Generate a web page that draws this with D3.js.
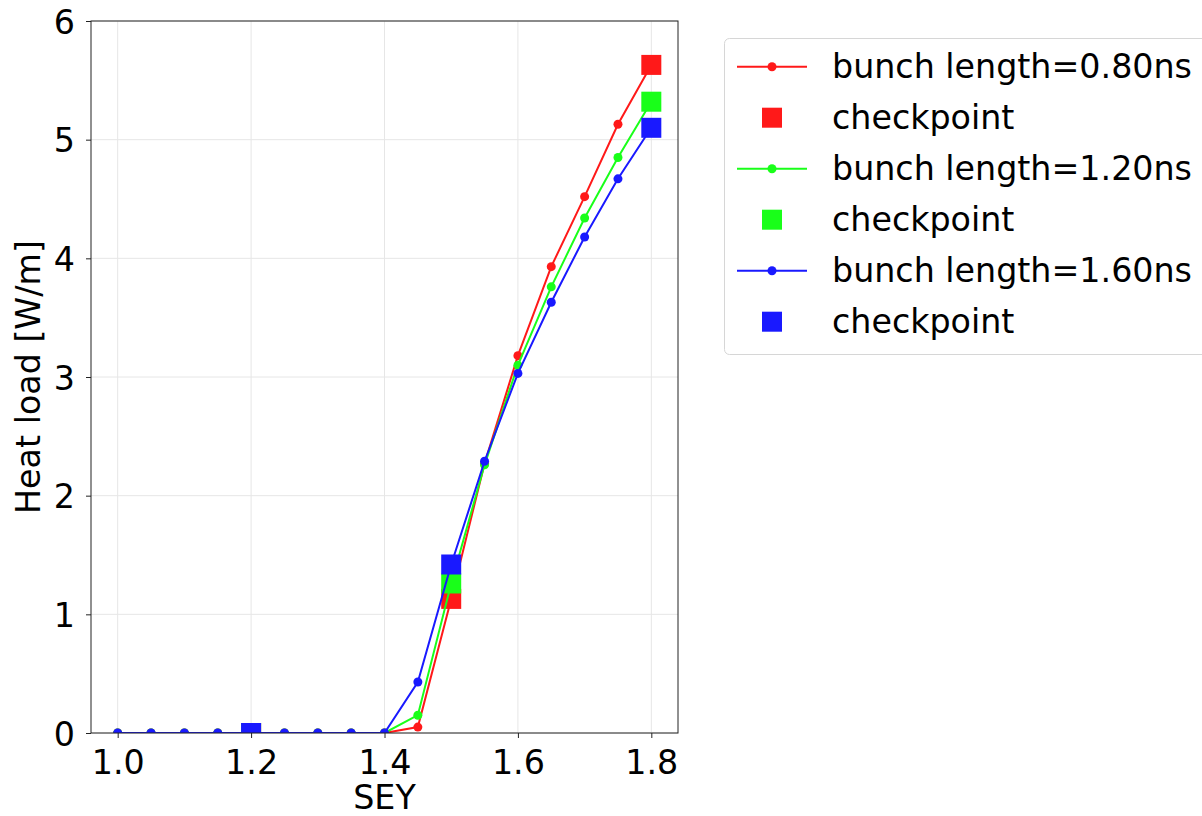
<!DOCTYPE html>
<html lang="en">
    <head>
        <meta charset="utf-8">
        <title>Heat load vs SEY</title>
        <script src="https://d3js.org/d3.v7.min.js"></script>
        <style>
            body {
                margin: 0;
                background-color: #ffffff;
            }
            svg {
                font-family: "DejaVu Sans", sans-serif;
            }
        </style>
    </head>
    <body>
        <svg id="chart"></svg>
        <script>
            //data
            const sey = [1.0, 1.05, 1.1, 1.15, 1.2, 1.25, 1.3, 1.35, 1.4, 1.45, 1.5, 1.55, 1.6, 1.65, 1.7, 1.75, 1.8];
            const heat080 = [0, 0, 0, 0, 0, 0, 0, 0, 0, 0.05, 1.13, 2.27, 3.18, 3.93, 4.52, 5.13, 5.63];
            const heat120 = [0, 0, 0, 0, 0, 0, 0, 0, 0, 0.15, 1.26, 2.26, 3.10, 3.76, 4.34, 4.85, 5.32];
            const heat160 = [0, 0, 0, 0, 0, 0, 0, 0, 0, 0.43, 1.42, 2.29, 3.03, 3.63, 4.18, 4.67, 5.10];

            const checkSey = [1.2, 1.5, 1.8];
            const check080 = [0, 1.13, 5.63];
            const check120 = [0, 1.26, 5.32];
            const check160 = [0, 1.42, 5.10];

            const seriesNames = ["bunch length=0.80ns", "bunch length=1.20ns", "bunch length=1.60ns"];
            const seriesColors = ["rgb(255,25,25)", "rgb(25,255,25)", "rgb(25,25,255)"];
            const xTicks = [1.0, 1.2, 1.4, 1.6, 1.8];
            const yTicks = [0, 1, 2, 3, 4, 5, 6];

            const series = [
                { name: seriesNames[0], color: seriesColors[0], line: heat080, check: check080 },
                { name: seriesNames[1], color: seriesColors[1], line: heat120, check: check120 },
                { name: seriesNames[2], color: seriesColors[2], line: heat160, check: check160 }
            ];

            //chart dimensions
            const width = 1202;
            const height = 816;
            const plot = { left: 91, top: 21, right: 678, bottom: 733 };
            const fontSize = 33.3;

            const svg = d3.select("#chart")
                    .attr("width", width)
                    .attr("height", height);

            svg.append("rect")
                    .attr("width", width)
                    .attr("height", height)
                    .attr("fill", "#ffffff");

            //scales
            const xScale = d3.scaleLinear()
                    .domain([0.96, 1.84])
                    .range([plot.left, plot.right]);

            const yScale = d3.scaleLinear()
                    .domain([0, 6])
                    .range([plot.bottom, plot.top]);

            //grid
            const grid = svg.append("g").attr("stroke", "#e6e6e6").attr("stroke-width", 1);
            grid.selectAll(".gx")
                    .data(xTicks)
                    .enter()
                    .append("line")
                    .attr("x1", d => xScale(d))
                    .attr("x2", d => xScale(d))
                    .attr("y1", plot.top)
                    .attr("y2", plot.bottom);
            grid.selectAll(".gy")
                    .data(yTicks)
                    .enter()
                    .append("line")
                    .attr("x1", plot.left)
                    .attr("x2", plot.right)
                    .attr("y1", d => yScale(d))
                    .attr("y2", d => yScale(d));

            //clip to plot area
            svg.append("clipPath")
                    .attr("id", "plot-clip")
                    .append("rect")
                    .attr("x", plot.left)
                    .attr("y", plot.top)
                    .attr("width", plot.right - plot.left)
                    .attr("height", plot.bottom - plot.top);

            const marks = svg.append("g").attr("clip-path", "url(#plot-clip)");

            const line = d3.line()
                    .x((d, i) => xScale(sey[i]))
                    .y(d => yScale(d));

            const squareSize = 20;

            series.forEach(s => {
                marks.append("path")
                        .datum(s.line)
                        .attr("d", line)
                        .attr("fill", "none")
                        .attr("stroke", s.color)
                        .attr("stroke-width", 2);

                marks.append("g")
                        .selectAll("circle")
                        .data(s.line)
                        .enter()
                        .append("circle")
                        .attr("cx", (d, i) => xScale(sey[i]))
                        .attr("cy", d => yScale(d))
                        .attr("r", 4.5)
                        .attr("fill", s.color);

                marks.append("g")
                        .selectAll("rect")
                        .data(s.check)
                        .enter()
                        .append("rect")
                        .attr("x", (d, i) => xScale(checkSey[i]) - squareSize / 2)
                        .attr("y", d => yScale(d) - squareSize / 2)
                        .attr("width", squareSize)
                        .attr("height", squareSize)
                        .attr("fill", s.color);
            });

            //frame
            svg.append("rect")
                    .attr("x", plot.left)
                    .attr("y", plot.top)
                    .attr("width", plot.right - plot.left)
                    .attr("height", plot.bottom - plot.top)
                    .attr("fill", "none")
                    .attr("stroke", "#222")
                    .attr("stroke-width", 1);

            //axes
            const xAxis = d3.axisBottom(xScale)
                    .tickValues(xTicks)
                    .tickFormat(d3.format(".1f"))
                    .tickSize(5)
                    .tickPadding(12);

            const yAxis = d3.axisLeft(yScale)
                    .tickValues(yTicks)
                    .tickFormat(d3.format("d"))
                    .tickSize(5)
                    .tickPadding(11);

            const gx = svg.append("g")
                    .attr("transform", `translate(0, ${plot.bottom})`)
                    .call(xAxis);
            const gy = svg.append("g")
                    .attr("transform", `translate(${plot.left}, 0)`)
                    .call(yAxis);

            [gx, gy].forEach(g => {
                g.select(".domain").remove();
                g.selectAll("line").attr("stroke", "#222");
                g.selectAll("text")
                        .attr("fill", "#000")
                        .style("font-size", fontSize + "px")
                        .style("font-family", "'DejaVu Sans', sans-serif");
            });
            gy.selectAll("text").attr("dy", "0.36em");

            //axis labels
            svg.append("text")
                    .attr("x", (plot.left + plot.right) / 2)
                    .attr("y", 809)
                    .attr("text-anchor", "middle")
                    .style("font-size", fontSize + "px")
                    .text("SEY");

            svg.append("text")
                    .attr("transform", `translate(40, ${(plot.top + plot.bottom) / 2}) rotate(-90)`)
                    .attr("text-anchor", "middle")
                    .style("font-size", fontSize + "px")
                    .text("Heat load [W/m]");

            //legend
            const legend = svg.append("g");
            legend.append("rect")
                    .attr("x", 724.5)
                    .attr("y", 38.5)
                    .attr("width", 500)
                    .attr("height", 316)
                    .attr("rx", 5)
                    .attr("fill", "#ffffff")
                    .attr("stroke", "#d6d6d6")
                    .attr("stroke-width", 1);

            const rowTop = 66.7;
            const rowStep = 51;
            series.forEach((s, i) => {
                const yLine = rowTop + rowStep * (2 * i);
                const ySquare = rowTop + rowStep * (2 * i + 1);

                legend.append("line")
                        .attr("x1", 737)
                        .attr("x2", 807)
                        .attr("y1", yLine)
                        .attr("y2", yLine)
                        .attr("stroke", s.color)
                        .attr("stroke-width", 2);
                legend.append("circle")
                        .attr("cx", 772)
                        .attr("cy", yLine)
                        .attr("r", 4.5)
                        .attr("fill", s.color);
                legend.append("text")
                        .attr("x", 832)
                        .attr("y", yLine)
                        .attr("dy", "0.35em")
                        .style("font-size", fontSize + "px")
                        .text(s.name);

                legend.append("rect")
                        .attr("x", 772 - squareSize / 2)
                        .attr("y", ySquare - squareSize / 2)
                        .attr("width", squareSize)
                        .attr("height", squareSize)
                        .attr("fill", s.color);
                legend.append("text")
                        .attr("x", 832)
                        .attr("y", ySquare)
                        .attr("dy", "0.35em")
                        .style("font-size", fontSize + "px")
                        .text("checkpoint");
            });
        </script>
    </body>
</html>
